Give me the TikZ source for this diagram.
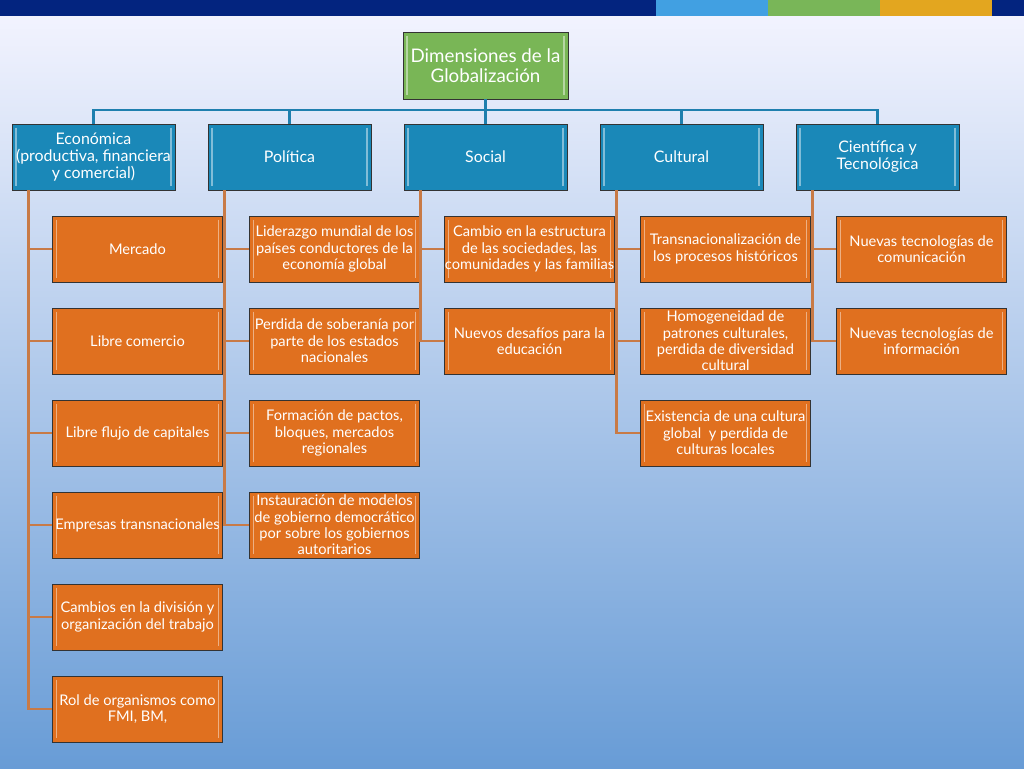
\documentclass[tikz,border=0pt]{standalone}
\usepackage{fontspec}
\setmainfont{Lato}
\definecolor{barblue}{HTML}{03247F}
\definecolor{barsky}{HTML}{41A0E2}
\definecolor{bargreen}{HTML}{79B658}
\definecolor{bargold}{HTML}{E3A61F}
\definecolor{rootgreen}{HTML}{79B656}
\definecolor{catblue}{HTML}{1A88B8}
\definecolor{itemorange}{HTML}{E0701F}
\definecolor{linkblue}{HTML}{1E7FAE}
\definecolor{linkorange}{HTML}{C87A46}
\tikzset{
  bevel/.style={path picture={
    \draw[white, opacity=0.45, line width=1.4pt]
      ([shift={(3.5pt,-3pt)}]path picture bounding box.north west) -- ([shift={(3.5pt,3pt)}]path picture bounding box.south west)
      ([shift={(-3.5pt,-3pt)}]path picture bounding box.north east) -- ([shift={(-3.5pt,3pt)}]path picture bounding box.south east);}},
  box/.style={draw=black!80, line width=0.8pt, text=white, align=center, inner sep=0pt, bevel},
  rootbox/.style={box, fill=rootgreen, minimum width=4.95cm, minimum height=2.01cm, font=\fontsize{16}{17.5}\selectfont},
  catbox/.style={box, fill=catblue, minimum width=4.89cm, minimum height=1.98cm, font=\fontsize{13.6}{14.6}\selectfont},
  itembox/.style={box, fill=itemorange, minimum width=5.1cm, minimum height=1.98cm, font=\fontsize{12.5}{14}\selectfont},
  toplink/.style={linkblue, line width=2.4pt},
  sublink/.style={linkorange, line width=2.4pt},
}
\begin{document}
\begin{tikzpicture}[x=0.3mm, y=-0.3mm]
  % background and top band
  \fill[top color=blue!4!white, bottom color={rgb,255:red,104;green,156;blue,214}] (0,0) rectangle (1024,768);
  \fill[barblue] (0,0) rectangle (1024,16);
  \fill[barsky] (656,0) rectangle (768,16);
  \fill[bargreen] (768,0) rectangle (880,16);
  \fill[bargold] (880,0) rectangle (992,16);

  % root
  \node[rootbox] (root) at (485.5,65.5) {Dimensiones de la\\Globalización};

  % dimensions
  \node[catbox] (eco) at (93.5,157) {Económica\\(productiva, financiera\\y comercial)};
  \node[catbox] (pol) at (289.5,157) {Política};
  \node[catbox] (soc) at (485.5,157) {Social};
  \node[catbox] (cul) at (681.5,157) {Cultural};
  \node[catbox] (cie) at (877.5,157) {Científica y\\Tecnológica};

  \coordinate (bus) at (485.5,110);
  \draw[toplink] (root.south) -- (bus);
  \foreach \c in {eco,pol,soc,cul,cie}
    \draw[toplink] (bus) -| (\c.north);

  % economic items
  \node[itembox] (eco1) at (137.5,249) {Mercado};
  \node[itembox] (eco2) at (137.5,341) {Libre comercio};
  \node[itembox] (eco3) at (137.5,433) {Libre flujo de capitales};
  \node[itembox] (eco4) at (137.5,525) {Empresas transnacionales};
  \node[itembox] (eco5) at (137.5,617) {Cambios en la división y\\organización del trabajo};
  \node[itembox] (eco6) at (137.5,709) {Rol de organismos como\\FMI, BM,};

  % political items
  \node[itembox] (pol1) at (334.5,249) {Liderazgo mundial de los\\países conductores de la\\economía global};
  \node[itembox] (pol2) at (334.5,341) {Perdida de soberanía por\\parte de los estados\\nacionales};
  \node[itembox] (pol3) at (334.5,433) {Formación de pactos,\\bloques, mercados\\regionales};
  \node[itembox] (pol4) at (334.5,525) {Instauración de modelos\\de gobierno democrático\\por sobre los gobiernos\\autoritarios};

  % social items
  \node[itembox] (soc1) at (529.5,249) {Cambio en la estructura\\de las sociedades, las\\comunidades y las familias};
  \node[itembox] (soc2) at (529.5,341) {Nuevos desafíos para la\\educación};

  % cultural items
  \node[itembox] (cul1) at (725.5,249) {Transnacionalización de\\los procesos históricos};
  \node[itembox] (cul2) at (725.5,341) {Homogeneidad de\\patrones culturales,\\perdida de diversidad\\cultural};
  \node[itembox] (cul3) at (725.5,433) {Existencia de una cultura\\global~ y perdida de\\culturas locales};

  % scientific items
  \node[itembox] (cie1) at (921.5,249) {Nuevas tecnologías de\\comunicación};
  \node[itembox] (cie2) at (921.5,341) {Nuevas tecnologías de\\información};

  % links down to the items
  \foreach \c/\n in {eco/6,pol/4,soc/2,cul/3,cie/2}
    \foreach \i in {1,...,\n}
      \draw[sublink] ([xshift=5.1mm]\c.south west) |- (\c\i.west);
\end{tikzpicture}
\end{document}
